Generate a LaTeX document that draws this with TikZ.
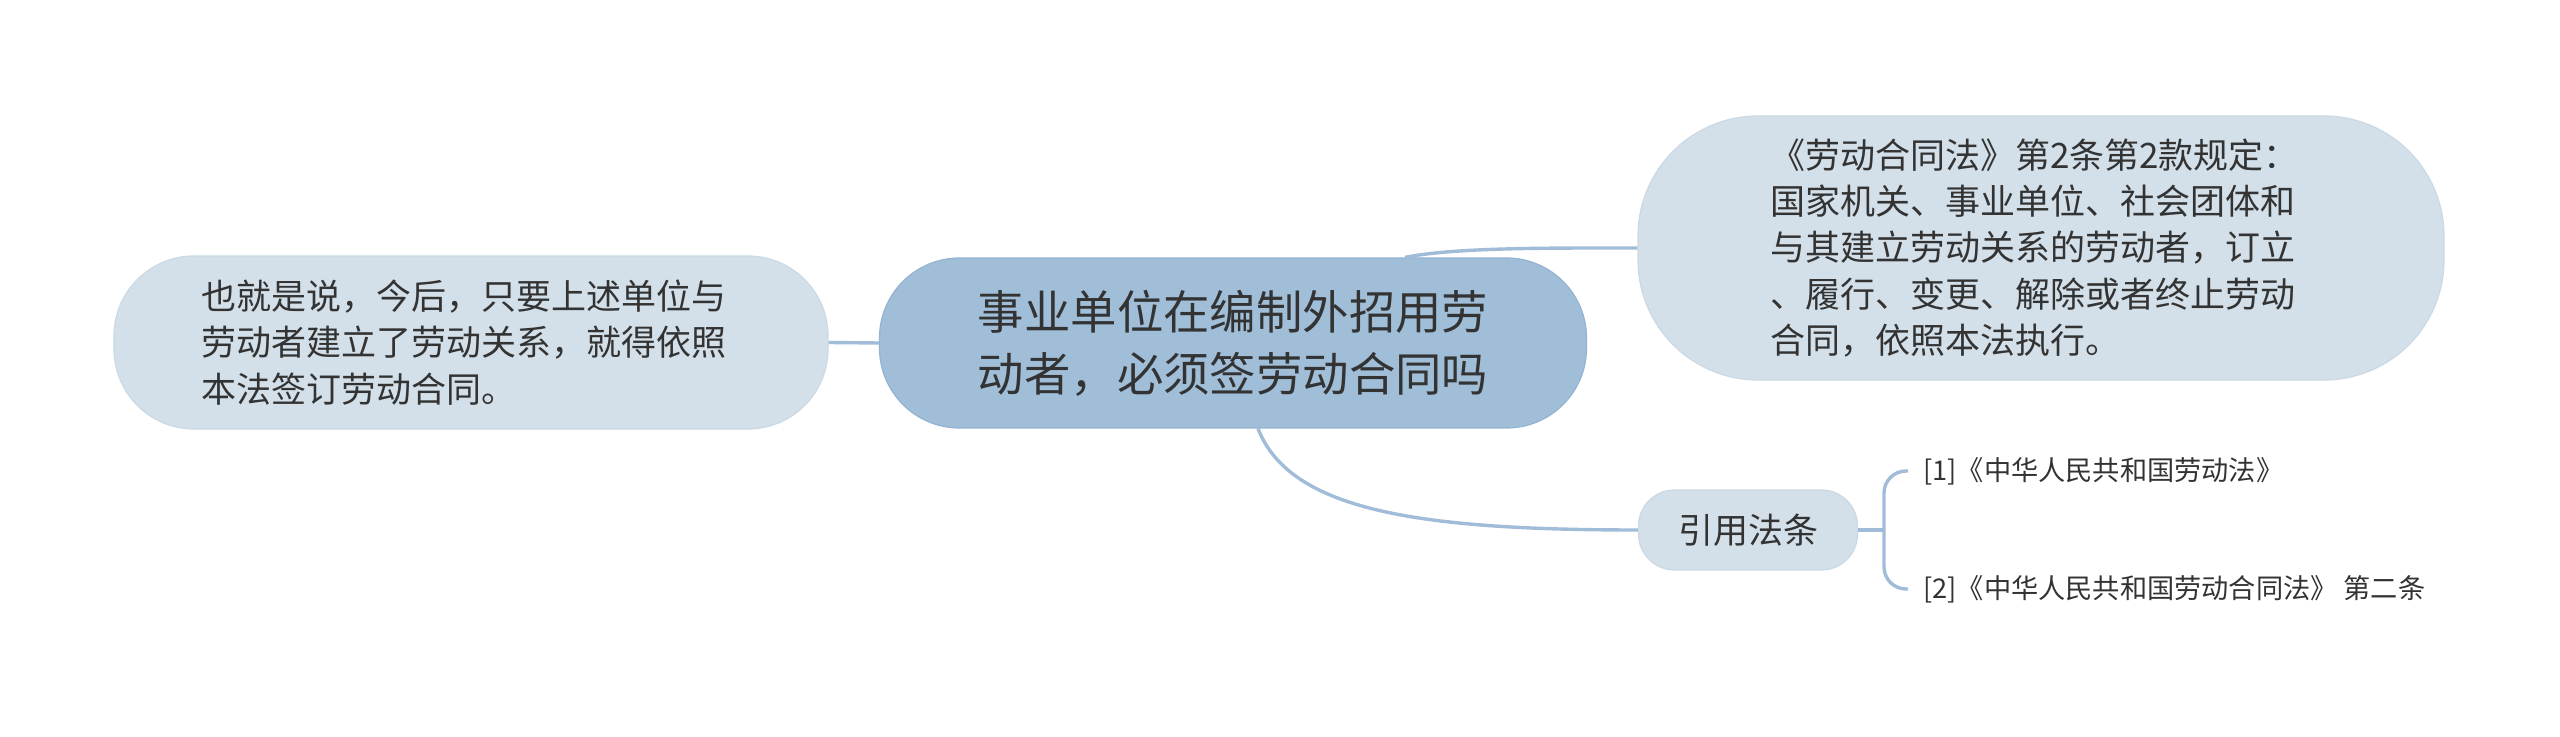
\documentclass[tikz,border=0pt]{standalone}
\usepackage{fontspec}
\setmainfont{Noto Sans CJK SC}
\definecolor{mainblue}{HTML}{A1BED9}
\definecolor{mainedge}{HTML}{94B3D2}
\definecolor{lightblue}{HTML}{D3E0E9}
\definecolor{lightedge}{HTML}{CBD9E4}
\definecolor{linkblue}{HTML}{A0BCD8}
\definecolor{txt}{HTML}{333333}
\begin{document}
\begin{tikzpicture}[x=0.5pt,y=-0.5pt,
  central/.style={draw=mainedge, fill=mainblue, line width=0.6pt, rounded corners=40pt,
    minimum width=353.5pt, minimum height=85pt, align=left, text=txt, inner sep=0pt,
    font=\fontsize{23.2pt}{31pt}\selectfont},
  topic/.style={draw=lightedge, fill=lightblue, line width=0.6pt, align=left, text=txt,
    inner sep=0pt, font=\fontsize{17.5pt}{23.2pt}\selectfont},
  leaf/.style={text=txt, inner xsep=7.5pt, inner ysep=0pt, anchor=west,
    font=\fontsize{13.6pt}{16pt}\selectfont},
  link/.style={draw=linkblue, line width=1.7pt},
]
\useasboundingbox (0,0) rectangle (2560,737);

\node[central] (c) at (1233,343) {事业单位在编制外招用劳\\动者，必须签劳动合同吗};
\node[topic, minimum width=357pt, minimum height=86.5pt, rounded corners=40pt, text width=270pt] (l) at (471,342.5)
  {也就是说，今后，只要上述单位与\\劳动者建立了劳动关系，就得依照\\本法签订劳动合同。};
\node[topic, minimum width=403pt, minimum height=132pt, rounded corners=60pt, text width=271pt] (r) at (2041,248)
  {《劳动合同法》第2条第2款规定：\\国家机关、事业单位、社会团体和\\与其建立劳动关系的劳动者，订立\\、履行、变更、解除或者终止劳动\\合同，依照本法执行。};
\node[topic, minimum width=109.5pt, minimum height=40pt, rounded corners=18pt] (cite) at (1748,530) {引用法条};
\node[leaf] (f1) at (1908,471) {[1]《中华人民共和国劳动法》};
\node[leaf] (f2) at (1908,589) {[2]《中华人民共和国劳动合同法》 第二条};

\coordinate (br) at (1884,530);

\draw[link] (l.east) -- (c.west);
\draw[link] ([xshift=86pt]c.north) .. controls +(50,-10) and +(-90,0) .. (r.west);
\draw[link] ([xshift=12.5pt]c.south) .. controls +(32,82) and +(-220,0) .. (cite.west);
\draw[link] (cite.east) -- (br);
\draw[link, rounded corners=11pt] (br) |- (f1.west);
\draw[link, rounded corners=11pt] (br) |- (f2.west);
\end{tikzpicture}
\end{document}
